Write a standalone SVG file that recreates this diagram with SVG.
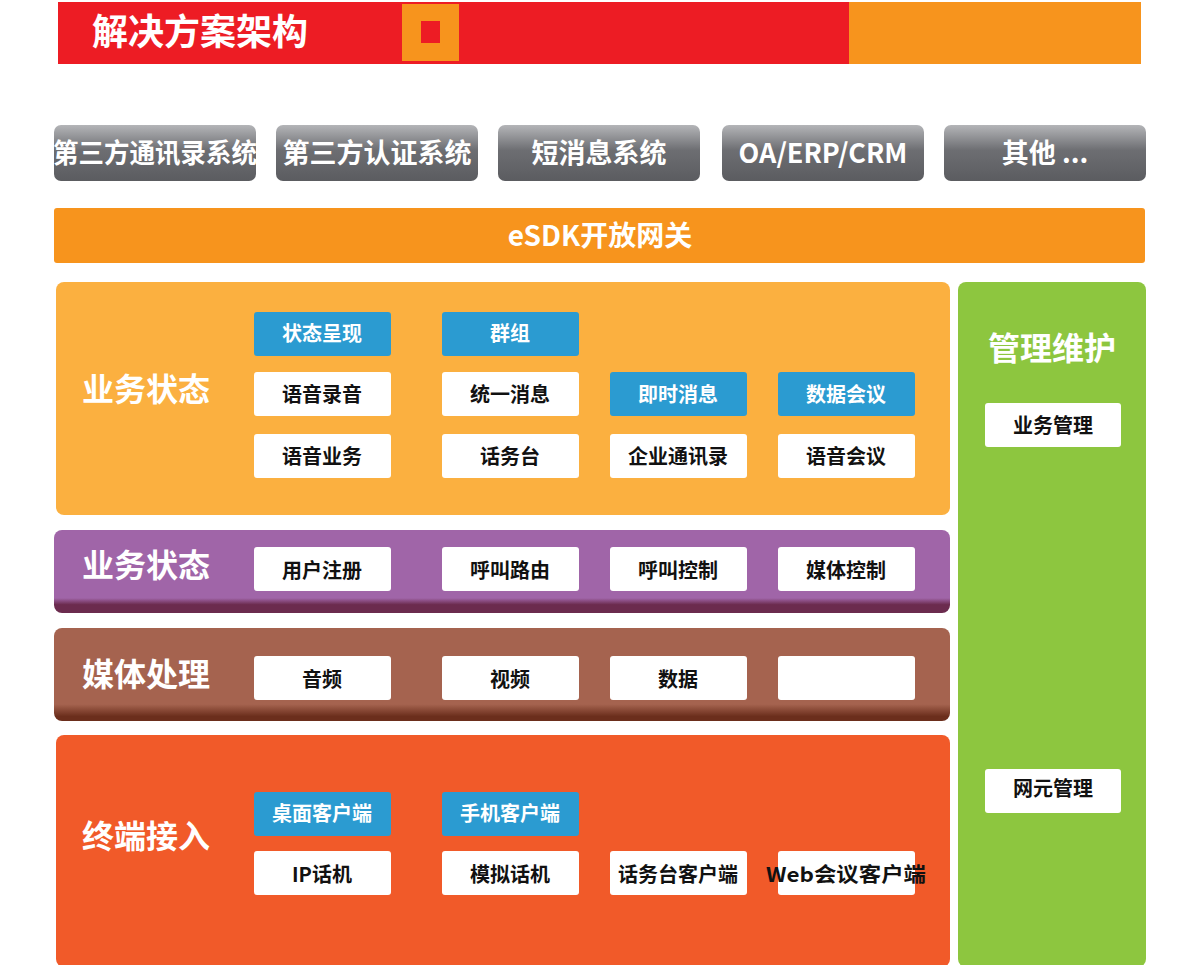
<svg xmlns="http://www.w3.org/2000/svg" width="1200" height="965" viewBox="0 0 1200 965">
<defs>
<linearGradient id="gray" x1="0" y1="0" x2="0" y2="1"><stop offset="0" stop-color="#b4b5b8"/><stop offset="0.45" stop-color="#6d6e72"/><stop offset="1" stop-color="#5b5c60"/></linearGradient>
<linearGradient id="pur" x1="0" y1="0" x2="0" y2="1"><stop offset="0.82" stop-color="#a065a8"/><stop offset="0.9" stop-color="#6b2b4e"/></linearGradient>
<linearGradient id="brn" x1="0" y1="0" x2="0" y2="1"><stop offset="0.82" stop-color="#a5634f"/><stop offset="0.95" stop-color="#6b2e1c"/></linearGradient>
<style>
text{font-family:"Noto Sans CJK SC","Noto Sans",sans-serif;font-weight:bold;text-anchor:middle}
.g text{fill:#fff;font-size:27px}
.w{fill:#fff}
.b{fill:#2b9bd1}
.t{font-size:20px;fill:#111}
.bt{font-size:20px;fill:#fff}
.h{fill:#fff;font-size:32px;text-anchor:start}
</style>
</defs>
<rect width="1200" height="965" fill="#fff"/>
<g id="header">
<rect x="58" y="2" width="791" height="62" fill="#ed1c24"/>
<rect x="849" y="2" width="292" height="62" fill="#f7941d"/>
<rect x="402" y="4" width="57" height="57" fill="#f7941d"/>
<rect x="421" y="21" width="19" height="22" fill="#ed1c24"/>
<text x="92" y="45" style="fill:#fff;font-size:36px;text-anchor:start">解决方案架构</text>
</g>
<g id="external" class="g">
<rect x="54" y="125" width="202" height="56" rx="7" fill="url(#gray)"/><text x="155" y="163" textLength="204" lengthAdjust="spacingAndGlyphs">第三方通讯录系统</text>
<rect x="276" y="125" width="202" height="56" rx="7" fill="url(#gray)"/><text x="377" y="163">第三方认证系统</text>
<rect x="498" y="125" width="202" height="56" rx="7" fill="url(#gray)"/><text x="599" y="163">短消息系统</text>
<rect x="722" y="125" width="202" height="56" rx="7" fill="url(#gray)"/><text x="823" y="163">OA/ERP/CRM</text>
<rect x="944" y="125" width="202" height="56" rx="7" fill="url(#gray)"/><text x="1045" y="163">其他 ...</text>
</g>
<g id="esdk">
<rect x="54" y="208" width="1091" height="55" rx="3" fill="#f7941d"/>
<text x="600" y="246" style="fill:#fff;font-size:28px">eSDK开放网关</text>
</g>
<g id="layer-service">
<rect x="56" y="282" width="894" height="233" rx="8" fill="#fbb040"/>
<text class="h" x="82" y="401">业务状态</text>
<rect class="b" x="254" y="312" width="137" height="44" rx="3"/><text class="bt" x="322" y="341">状态呈现</text>
<rect class="b" x="442" y="312" width="137" height="44" rx="3"/><text class="bt" x="510" y="341">群组</text>
<rect class="w" x="254" y="372" width="137" height="44" rx="3"/><text class="t" x="322" y="402">语音录音</text>
<rect class="w" x="442" y="372" width="137" height="44" rx="3"/><text class="t" x="510" y="402">统一消息</text>
<rect class="b" x="610" y="372" width="137" height="44" rx="3"/><text class="bt" x="678" y="402">即时消息</text>
<rect class="b" x="778" y="372" width="137" height="44" rx="3"/><text class="bt" x="846" y="402">数据会议</text>
<rect class="w" x="254" y="434" width="137" height="44" rx="3"/><text class="t" x="322" y="464">语音业务</text>
<rect class="w" x="442" y="434" width="137" height="44" rx="3"/><text class="t" x="510" y="464">话务台</text>
<rect class="w" x="610" y="434" width="137" height="44" rx="3"/><text class="t" x="678" y="464">企业通讯录</text>
<rect class="w" x="778" y="434" width="137" height="44" rx="3"/><text class="t" x="846" y="464">语音会议</text>
</g>
<g id="layer-control">
<rect x="54" y="530" width="896" height="83" rx="8" fill="url(#pur)"/>
<text class="h" x="82" y="577">业务状态</text>
<rect class="w" x="254" y="547" width="137" height="44" rx="3"/><text class="t" x="322" y="578">用户注册</text>
<rect class="w" x="442" y="547" width="137" height="44" rx="3"/><text class="t" x="510" y="578">呼叫路由</text>
<rect class="w" x="610" y="547" width="137" height="44" rx="3"/><text class="t" x="678" y="578">呼叫控制</text>
<rect class="w" x="778" y="547" width="137" height="44" rx="3"/><text class="t" x="846" y="578">媒体控制</text>
</g>
<g id="layer-media">
<rect x="54" y="628" width="896" height="93" rx="8" fill="url(#brn)"/>
<text class="h" x="82" y="686">媒体处理</text>
<rect class="w" x="254" y="656" width="137" height="44" rx="3"/><text class="t" x="322" y="687">音频</text>
<rect class="w" x="442" y="656" width="137" height="44" rx="3"/><text class="t" x="510" y="687">视频</text>
<rect class="w" x="610" y="656" width="137" height="44" rx="3"/><text class="t" x="678" y="687">数据</text>
<rect class="w" x="778" y="656" width="137" height="44" rx="3"/>
</g>
<g id="layer-access">
<rect x="56" y="735" width="894" height="232" rx="8" fill="#f15a29"/>
<text class="h" x="82" y="848">终端接入</text>
<rect class="b" x="254" y="792" width="137" height="44" rx="3"/><text class="bt" x="322" y="821">桌面客户端</text>
<rect class="b" x="442" y="792" width="137" height="44" rx="3"/><text class="bt" x="510" y="821">手机客户端</text>
<rect class="w" x="254" y="851" width="137" height="44" rx="3"/><text class="t" x="322" y="882">IP话机</text>
<rect class="w" x="442" y="851" width="137" height="44" rx="3"/><text class="t" x="510" y="882">模拟话机</text>
<rect class="w" x="610" y="851" width="137" height="44" rx="3"/><text class="t" x="678" y="882">话务台客户端</text>
<rect class="w" x="778" y="851" width="137" height="44" rx="3"/><text class="t" x="846" y="882" textLength="160" lengthAdjust="spacingAndGlyphs">Web会议客户端</text>
</g>
<g id="management">
<rect x="958" y="282" width="188" height="685" rx="8" fill="#8dc63f"/>
<text x="1052" y="360" style="fill:#fff;font-size:32px">管理维护</text>
<rect class="w" x="985" y="403" width="136" height="44" rx="3"/><text class="t" x="1053" y="433">业务管理</text>
<rect class="w" x="985" y="769" width="136" height="44" rx="3"/><text class="t" x="1053" y="796">网元管理</text>
</g>
<g id="connectors"/>
</svg>
